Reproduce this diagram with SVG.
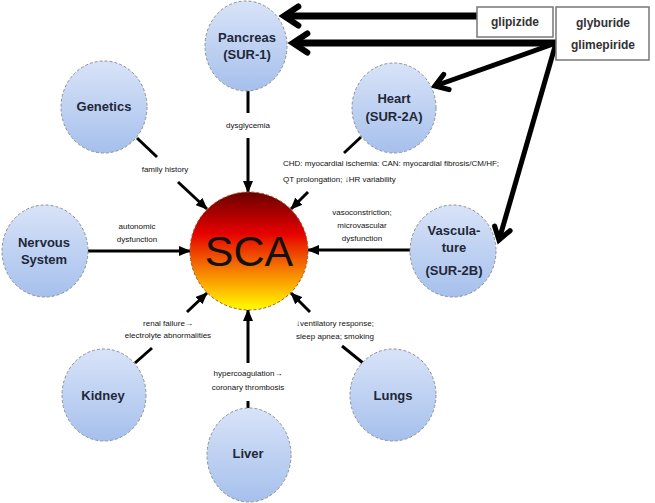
<svg xmlns="http://www.w3.org/2000/svg" width="655" height="503" viewBox="0 0 655 503">
<defs>
<linearGradient id="nodeFill" x1="0" y1="0" x2="0" y2="1">
<stop offset="0" stop-color="#d8e3f8"/>
<stop offset="1" stop-color="#a6c0ec"/>
</linearGradient>
<linearGradient id="scaFill" x1="0" y1="0" x2="0" y2="1">
<stop offset="0" stop-color="#6a0000"/>
<stop offset="0.35" stop-color="#e60000"/>
<stop offset="0.6" stop-color="#f26500"/>
<stop offset="0.85" stop-color="#ffc400"/>
<stop offset="1" stop-color="#ffff00"/>
</linearGradient>
<marker id="tri" markerUnits="userSpaceOnUse" viewBox="0 0 12 10" refX="11" refY="5" markerWidth="12" markerHeight="10" orient="auto">
<path d="M0,0 L12,5 L0,10 z" fill="#000"/>
</marker>
<marker id="chev" markerUnits="strokeWidth" viewBox="0 0 10 10" refX="8.5" refY="5" markerWidth="3.4" markerHeight="3.4" orient="auto" overflow="visible">
<path d="M2.5,1 L8.5,5 L2.5,9" fill="none" stroke="#000" stroke-width="2.6" stroke-linecap="round" stroke-linejoin="miter"/>
</marker>
<marker id="chev2" markerUnits="strokeWidth" viewBox="0 0 10 10" refX="8.5" refY="5" markerWidth="4" markerHeight="4" orient="auto" overflow="visible">
<path d="M2.5,1 L8.5,5 L2.5,9" fill="none" stroke="#000" stroke-width="2.6" stroke-linecap="round" stroke-linejoin="miter"/>
</marker>
</defs>
<style>
.node{fill:url(#nodeFill);stroke:#8b8f98;stroke-width:1;stroke-dasharray:3 2}
.nt{font-family:"Liberation Sans",Arial,sans-serif;font-weight:bold;font-size:13px;fill:#1f2838;text-anchor:middle}
.lbl{font-family:"Liberation Sans",Arial,sans-serif;font-size:8px;fill:#111;text-anchor:middle}
.lbll{font-family:"Liberation Sans",Arial,sans-serif;font-size:8px;fill:#111;text-anchor:start}
.ln{stroke:#000;stroke-width:3;fill:none}
.ar{stroke:#000;stroke-width:3;fill:none;marker-end:url(#tri)}
.drug{stroke:#000;fill:none;marker-end:url(#chev)}
.drug2{stroke:#000;fill:none;marker-end:url(#chev2)}
.box{fill:#fff;stroke:#777;stroke-width:1.5}
.bt{font-family:"Liberation Sans",Arial,sans-serif;font-weight:bold;font-size:12px;fill:#333;text-anchor:middle}
</style>
<rect width="655" height="503" fill="#fff"/>

<g id="connectors">
<line class="ln" x1="248" y1="91" x2="248" y2="113"/>
<line class="ar" x1="248" y1="138" x2="248" y2="192"/>
<line class="ln" x1="137" y1="138" x2="157" y2="157"/>
<line class="ar" x1="178" y1="182" x2="207" y2="209"/>
<line class="ln" x1="361" y1="137" x2="344" y2="153"/>
<line class="ar" x1="308" y1="192" x2="291" y2="209"/>
<line class="ar" x1="88" y1="251" x2="190" y2="251"/>
<line class="ar" x1="410" y1="250" x2="308" y2="250"/>
<line class="ln" x1="135" y1="363" x2="152" y2="348"/>
<line class="ar" x1="187" y1="312" x2="207" y2="293"/>
<line class="ln" x1="248" y1="408" x2="248" y2="401"/>
<line class="ar" x1="248" y1="363" x2="248" y2="310"/>
<line class="ln" x1="363" y1="363" x2="342" y2="346"/>
<line class="ar" x1="310" y1="312" x2="291" y2="293"/>
<line class="drug" stroke-width="7" x1="477" y1="16" x2="284" y2="16"/>
<line class="drug" stroke-width="7" x1="556" y1="43" x2="293" y2="43"/>
<line class="drug2" stroke-width="5" x1="556" y1="43" x2="435" y2="86"/>
<line class="drug2" stroke-width="5" x1="556" y1="43" x2="499" y2="240"/>
</g>

<g id="labels">
<text class="lbl" x="248" y="128">dysglycemia</text>
<text class="lbl" x="165" y="172">family history</text>
<text class="lbll" x="283" y="166">CHD: myocardial ischemia: CAN: myocardial fibrosis/CM/HF;</text>
<text class="lbll" x="283" y="182">QT prolongation; ↓HR variability</text>
<text class="lbl" x="137" y="229">autonomic</text>
<text class="lbl" x="137" y="242">dysfunction</text>
<text class="lbl" x="362" y="215">vasoconstriction;</text>
<text class="lbl" x="362" y="228">microvascular</text>
<text class="lbl" x="362" y="241">dysfunction</text>
<text class="lbl" x="168" y="326">renal failure→</text>
<text class="lbl" x="168" y="338">electrolyte abnormalities</text>
<text class="lbl" x="248" y="376">hypercoagulation→</text>
<text class="lbl" x="248" y="390">coronary thrombosis</text>
<text class="lbl" x="335" y="326">↓ventilatory response;</text>
<text class="lbl" x="335" y="339">sleep apnea; smoking</text>
</g>

<g id="sca">
<circle cx="249" cy="251" r="59" fill="url(#scaFill)" stroke="#a05a20" stroke-width="1" stroke-dasharray="3 2"/>
<text x="249" y="266" font-family="Liberation Sans,Arial,sans-serif" font-size="43" fill="#111" text-anchor="middle">SCA</text>
</g>

<g id="pancreas">
<ellipse class="node" cx="246" cy="46" rx="41" ry="45"/>
<text class="nt" x="247" y="42">Pancreas</text>
<text class="nt" x="247" y="59">(SUR-1)</text>
</g>
<g id="heart">
<ellipse class="node" cx="394" cy="108" rx="42" ry="45"/>
<text class="nt" x="394" y="103">Heart</text>
<text class="nt" x="394" y="121">(SUR-2A)</text>
</g>
<g id="genetics">
<ellipse class="node" cx="104" cy="107" rx="43" ry="46"/>
<text class="nt" x="104" y="111">Genetics</text>
</g>
<g id="nervous">
<ellipse class="node" cx="45" cy="251" rx="43" ry="46"/>
<text class="nt" x="44" y="247">Nervous</text>
<text class="nt" x="44" y="264">System</text>
</g>
<g id="vasculature">
<ellipse class="node" cx="453" cy="251" rx="43" ry="46"/>
<text class="nt" x="454" y="235">Vascula-</text>
<text class="nt" x="454" y="252">ture</text>
<text class="nt" x="454" y="275">(SUR-2B)</text>
</g>
<g id="kidney">
<ellipse class="node" cx="104" cy="395" rx="42" ry="46"/>
<text class="nt" x="103" y="400">Kidney</text>
</g>
<g id="liver">
<ellipse class="node" cx="249" cy="455" rx="42" ry="47"/>
<text class="nt" x="248" y="458">Liver</text>
</g>
<g id="lungs">
<ellipse class="node" cx="393" cy="395" rx="43" ry="46"/>
<text class="nt" x="393" y="400">Lungs</text>
</g>
<g id="glipizide">
<rect class="box" x="477" y="7" width="76" height="30"/>
<text class="bt" x="515" y="26">glipizide</text>
</g>
<g id="glyburide">
<rect class="box" x="556" y="7" width="93" height="53"/>
<text class="bt" x="603" y="27">glyburide</text>
<text class="bt" x="603" y="49">glimepiride</text>
</g>
</svg>
